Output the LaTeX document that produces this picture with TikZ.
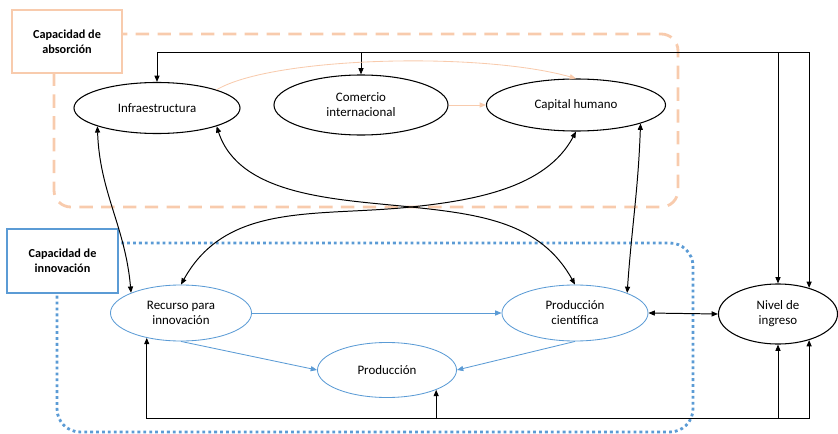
\documentclass[tikz,border=0pt]{standalone}
\usepackage{fontspec}
\setmainfont{Carlito}
\usetikzlibrary{shapes.geometric,arrows.meta}
\definecolor{peach}{RGB}{248,203,173}
\definecolor{azul}{RGB}{91,155,213}
\tikzstyle{factor} = [ellipse,draw=black,line width=0.75pt,inner sep=0pt,align=center,font=\fontsize{9.2}{10.6}\selectfont]
\tikzstyle{factorb} = [factor,draw=azul,line width=0.6pt]
\tikzstyle{grouplabel} = [rectangle,fill=white,line width=2pt,inner sep=0pt,align=center,font=\bfseries\fontsize{8.7}{11}\selectfont]
\tikzstyle{link} = [line width=0.7pt,{Triangle[length=4.5pt,width=3.6pt]}-{Triangle[length=4.5pt,width=3.6pt]}]
\tikzstyle{flow} = [line width=0.6pt,-{Triangle[length=4.5pt,width=3.6pt]}]

\begin{document}
\begin{tikzpicture}[x=0.025cm,y=0.025cm]
		\useasboundingbox (0,0) rectangle (838,-434);
		\draw[peach,line width=2pt,dash pattern=on 9.5pt off 6pt,rounded corners=0.42cm] (54,-34) rectangle (678,-207);
		\draw[azul,line width=2pt,dash pattern=on 2pt off 2.2pt,rounded corners=0.58cm] (57,-243) rectangle (693,-432);
		\node[grouplabel,draw=peach,minimum width=2.75cm,minimum height=1.575cm] (absorcion) at (67,-41.5) {Capacidad de\\absorción};
		\node[grouplabel,draw=azul,minimum width=2.775cm,minimum height=1.6cm] (innovacion) at (62.5,-261) {Capacidad de\\innovación};
		\node[factor,minimum width=4.15cm,minimum height=1.275cm] (infra) at (157,-108) {Infraestructura};
		\node[factor,minimum width=4.35cm,minimum height=1.5cm] (comercio) at (361,-105) {Comercio\\internacional};
		\node[factor,minimum width=4.475cm,minimum height=1.3cm] (capital) at (576,-105) {Capital humano};
		\node[factor,minimum width=2.975cm,minimum height=1.5cm] (nivel) at (778,-314) {Nivel de\\ingreso};
		\node[factorb,minimum width=3.525cm,minimum height=1.4cm] (recurso) at (181,-313) {Recurso para\\innovación};
		\node[factorb,minimum width=3.65cm,minimum height=1.4cm] (cientifica) at (575,-313) {Producción\\científica};
		\node[factorb,minimum width=3.475cm,minimum height=1.375cm] (produccion) at (387,-370) {Producción};
		\coordinate (arriba) at (0,-52);
		\coordinate (abajo) at (0,-418);
		\coordinate (cruce) at (411,-207);
		\draw[link] (infra.north) -- (infra.north |- arriba) -| (nivel.40);
		\draw[link] (comercio.north) -- (comercio.north |- arriba) -| (nivel.north);
		\draw[link] (recurso.216) -- (recurso.216 |- abajo) -| (nivel.320);
		\draw[link] (produccion.338) -- (produccion.338 |- abajo) -| (nivel.south);
		\draw[link] (infra.197) to[out=-88,in=95] (recurso.158);
		\draw[link] (infra.343) to[out=-72,in=174,looseness=0.9] (cruce) to[out=-6,in=119] (cientifica.north);
		\draw[link] (capital.south) to[out=-118,in=6,looseness=0.9] (cruce) to[out=186,in=61] (recurso.north);
		\draw[link] (capital.344) to[out=-92,in=86] (cientifica.21);
		\draw[link] (cientifica.east) -- (nivel.west);
		\draw[flow,peach] (infra.17) .. controls +(55,33) and +(-96,27) .. (capital.north);
		\draw[flow,peach] (comercio.east) -- (capital.west);
		\draw[flow,azul] (recurso.east) -- (cientifica.west);
		\draw[flow,azul] (recurso.south) -- (produccion.west);
		\draw[flow,azul] (cientifica.south) -- (produccion.east);
\end{tikzpicture}
\end{document}
